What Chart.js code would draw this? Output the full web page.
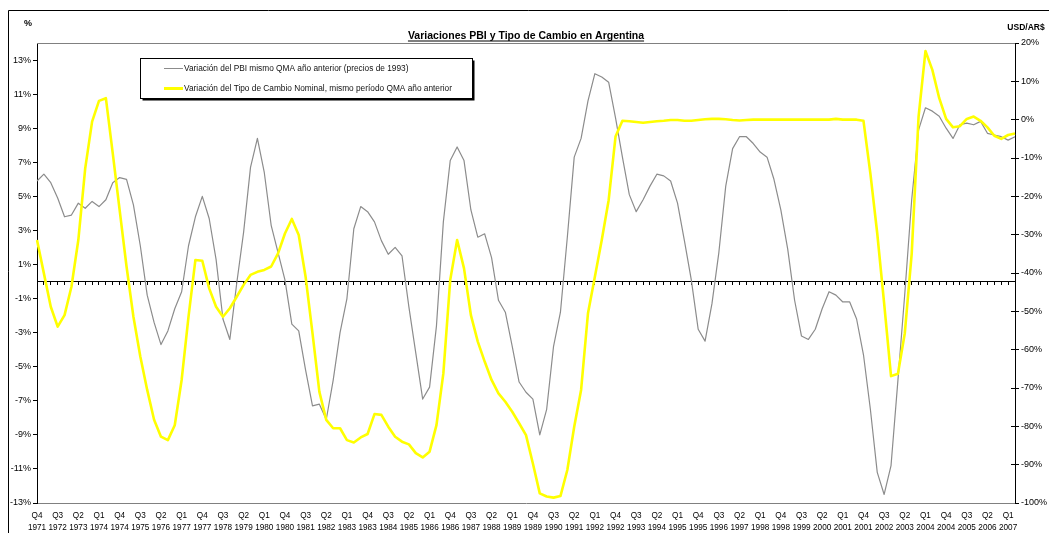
<!DOCTYPE html>
<html>
<head>
<meta charset="utf-8">
<script src="https://cdn.jsdelivr.net/npm/chart.js@4.4.1/dist/chart.umd.min.js"></script>
<style>
html,body{margin:0;padding:0;background:#fff;}
#wrap{position:relative;width:1049px;height:533px;}
</style>
</head>
<body>
<div id="wrap"><canvas id="c" width="1049" height="533"></canvas></div>
<script>
// ---- Data ----
const quarters = [
 "Q4 1971",
 "Q1 1972","Q2 1972","Q3 1972","Q4 1972",
 "Q1 1973","Q2 1973","Q3 1973","Q4 1973",
 "Q1 1974","Q2 1974","Q3 1974","Q4 1974",
 "Q1 1975","Q2 1975","Q3 1975","Q4 1975",
 "Q1 1976","Q2 1976","Q3 1976","Q4 1976",
 "Q1 1977","Q2 1977","Q3 1977","Q4 1977",
 "Q1 1978","Q2 1978","Q3 1978","Q4 1978",
 "Q1 1979","Q2 1979","Q3 1979","Q4 1979",
 "Q1 1980","Q2 1980","Q3 1980","Q4 1980",
 "Q1 1981","Q2 1981","Q3 1981","Q4 1981",
 "Q1 1982","Q2 1982","Q3 1982","Q4 1982",
 "Q1 1983","Q2 1983","Q3 1983","Q4 1983",
 "Q1 1984","Q2 1984","Q3 1984","Q4 1984",
 "Q1 1985","Q2 1985","Q3 1985","Q4 1985",
 "Q1 1986","Q2 1986","Q3 1986","Q4 1986",
 "Q1 1987","Q2 1987","Q3 1987","Q4 1987",
 "Q1 1988","Q2 1988","Q3 1988","Q4 1988",
 "Q1 1989","Q2 1989","Q3 1989","Q4 1989",
 "Q1 1990","Q2 1990","Q3 1990","Q4 1990",
 "Q1 1991","Q2 1991","Q3 1991","Q4 1991",
 "Q1 1992","Q2 1992","Q3 1992","Q4 1992",
 "Q1 1993","Q2 1993","Q3 1993","Q4 1993",
 "Q1 1994","Q2 1994","Q3 1994","Q4 1994",
 "Q1 1995","Q2 1995","Q3 1995","Q4 1995",
 "Q1 1996","Q2 1996","Q3 1996","Q4 1996",
 "Q1 1997","Q2 1997","Q3 1997","Q4 1997",
 "Q1 1998","Q2 1998","Q3 1998","Q4 1998",
 "Q1 1999","Q2 1999","Q3 1999","Q4 1999",
 "Q1 2000","Q2 2000","Q3 2000","Q4 2000",
 "Q1 2001","Q2 2001","Q3 2001","Q4 2001",
 "Q1 2002","Q2 2002","Q3 2002","Q4 2002",
 "Q1 2003","Q2 2003","Q3 2003","Q4 2003",
 "Q1 2004","Q2 2004","Q3 2004","Q4 2004",
 "Q1 2005","Q2 2005","Q3 2005","Q4 2005",
 "Q1 2006","Q2 2006","Q3 2006","Q4 2006",
 "Q1 2007","Q2 2007"
];

// Variación del PBI (%), left axis
const pbi = [
 5.9, 6.3, 5.8, 4.9, 3.8, 3.9, 4.6, 4.3, 4.7, 4.4,
 4.8, 5.8, 6.1, 6.0, 4.5, 2.1, -0.8, -2.4, -3.7, -2.9,
 -1.6, -0.6, 2.1, 3.8, 5.0, 3.7, 1.3, -2.2, -3.4, -0.1,
 2.9, 6.7, 8.4, 6.4, 3.3, 1.7, 0.1, -2.5, -2.9, -5.2,
 -7.3, -7.2, -8.1, -5.8, -3.0, -1.0, 3.1, 4.4, 4.1, 3.5,
 2.4, 1.6, 2.0, 1.5, -1.5, -4.2, -6.9, -6.2, -2.6, 3.5,
 7.1, 7.9, 7.1, 4.2, 2.6, 2.8, 1.4, -1.1, -1.8, -3.8,
 -5.9, -6.5, -6.9, -9.0, -7.5, -3.8, -1.8, 2.6, 7.3, 8.4,
 10.6, 12.2, 12.0, 11.7, 9.6, 7.3, 5.1, 4.1, 4.8, 5.6,
 6.3, 6.2, 5.9, 4.6, 2.4, 0.1, -2.8, -3.5, -1.3, 1.7,
 5.6, 7.8, 8.5, 8.5, 8.1, 7.6, 7.3, 6.0, 4.2, 1.9,
 -1.1, -3.2, -3.4, -2.8, -1.6, -0.6, -0.8, -1.2, -1.2, -2.2,
 -4.3, -7.5, -11.2, -12.5, -10.8, -5.8, -0.7, 4.8, 8.9, 10.2,
 10.0, 9.7, 9.0, 8.4, 9.2, 9.3, 9.2, 9.4, 8.7, 8.6,
 8.5, 8.3, 8.5
];

// Variación del Tipo de Cambio Nominal (%), right axis
const tipoCambio = [
 -31.4, -40.1, -48.8, -54.0, -51.0, -43.6, -31.4, -12.7, -0.5, 4.9,
 5.6, -8.8, -23.6, -38.3, -51.4, -61.8, -70.5, -78.3, -82.7, -83.6,
 -79.7, -67.9, -51.4, -36.6, -36.8, -44.0, -48.8, -51.4, -49.2, -46.2,
 -43.1, -40.5, -39.7, -39.2, -38.3, -34.9, -29.7, -25.9, -30.1, -41.0,
 -55.7, -71.0, -78.3, -80.5, -80.5, -83.6, -84.2, -82.9, -82.0, -76.8,
 -77.0, -80.1, -82.7, -84.0, -84.7, -87.0, -88.1, -86.6, -79.7, -66.2,
 -41.8, -31.4, -38.8, -51.0, -57.9, -63.1, -67.9, -71.4, -73.6, -76.2,
 -79.2, -82.3, -89.7, -97.5, -98.3, -98.6, -98.2, -91.4, -80.1, -70.5,
 -50.5, -41.0, -31.4, -21.0, -4.4, -0.3, -0.4, -0.6, -0.8, -0.6,
 -0.4, -0.3, -0.1, -0.1, -0.3, -0.3, -0.1, 0.1, 0.2, 0.2,
 0.1, -0.1, -0.2, -0.1, 0.0, 0.0, 0.0, 0.0, 0.0, 0.0,
 0.0, 0.0, 0.0, 0.0, 0.0, 0.0, 0.2, 0.0, 0.0, 0.0,
 -0.3, -14.0, -29.7, -47.9, -66.9, -66.3, -55.7, -35.0, 0.8, 17.9,
 13.0, 5.6, 0.2, -2.0, -1.7, 0.2, 0.8, -0.3, -2.0, -4.2,
 -5.0, -4.0, -3.6
];

const leftTicks = [-13, -11, -9, -7, -5, -3, -1, 1, 3, 5, 7, 9, 11, 13];
const rightTicks = [-100, -90, -80, -70, -60, -50, -40, -30, -20, -10, 0, 10, 20];
const seriesNames = [
 "Variación del PBI mismo QMA año anterior (precios de 1993)",
 "Variación del Tipo de Cambio Nominal, mismo período QMA año anterior"
];
const titleText = "Variaciones PBI y Tipo de Cambio en Argentina";
const leftUnit = "%";
const rightUnit = "USD/AR$";

// ---- Styling ----
const FONT = "'Liberation Sans', Arial, Helvetica, sans-serif";
const GRAY = '#8c8c8c';
const YELLOW = '#ffff00';
const setTicks = vals => scale => { scale.ticks = vals.map(v => ({ value: v })); };

const decor = {
  id: 'decor',
  beforeDraw(chart) {
    const c = chart.ctx;
    c.save();
    c.fillStyle = '#fff';
    c.fillRect(0, 0, chart.width, chart.height);
    // outer chart border (left & top visible)
    c.strokeStyle = '#000';
    c.lineWidth = 1;
    c.beginPath();
    c.moveTo(8.5, chart.height);
    c.lineTo(8.5, 10.5);
    c.lineTo(chart.width, 10.5);
    c.stroke();
    c.restore();
  },
  afterDraw(chart) {
    const c = chart.ctx;
    const a = chart.chartArea;
    c.save();
    // plot area top border (gray)
    c.strokeStyle = '#808080';
    c.lineWidth = 1;
    c.beginPath();
    c.moveTo(a.left, Math.round(a.top) + 0.5);
    c.lineTo(a.right, Math.round(a.top) + 0.5);
    c.stroke();

    // title, bold + underline
    c.fillStyle = '#000';
    c.font = 'bold 10.5px ' + FONT;
    c.textAlign = 'center';
    c.textBaseline = 'alphabetic';
    const tx = (a.left + a.right) / 2, ty = 39;
    c.fillText(titleText, tx, ty);
    const tw = c.measureText(titleText).width;
    c.fillRect(tx - tw / 2, ty + 1.5, tw, 1);

    // axis unit labels
    c.font = 'bold 9px ' + FONT;
    c.textBaseline = 'middle';
    c.fillText(leftUnit, 28, 24);
    c.font = 'bold 8.5px ' + FONT;
    c.fillText(rightUnit, 1026, 28);

    // legend box with shadow
    const lx = 140.5, ly = 58.5, lw = 332, lh = 40;
    c.fillStyle = '#000';
    c.fillRect(lx + 2, ly + 2, lw, lh);
    c.fillStyle = '#fff';
    c.fillRect(lx, ly, lw, lh);
    c.strokeStyle = '#000';
    c.lineWidth = 1;
    c.strokeRect(lx, ly, lw, lh);
    c.font = '8.3px ' + FONT;
    c.textAlign = 'left';
    c.textBaseline = 'middle';
    chart.data.datasets.forEach((ds, i) => {
      const yy = 68.5 + i * 20;
      c.strokeStyle = ds.borderColor;
      c.lineWidth = i === 0 ? 1 : 3;
      c.beginPath();
      c.moveTo(164, yy);
      c.lineTo(183, yy);
      c.stroke();
      c.fillStyle = '#111';
      c.fillText(ds.label, 184, yy);
    });
    c.restore();
  }
};

new Chart(document.getElementById('c').getContext('2d'), {
  type: 'line',
  data: {
    labels: quarters,
    datasets: [
      { label: seriesNames[0], data: pbi, yAxisID: 'y', borderColor: GRAY, borderWidth: 1.2,
        pointRadius: 0, tension: 0, fill: false, order: 1, borderJoinStyle: 'round' },
      { label: seriesNames[1], data: tipoCambio, yAxisID: 'y1', borderColor: YELLOW, borderWidth: 2.6,
        pointRadius: 0, tension: 0, fill: false, order: 0, borderJoinStyle: 'round' }
    ]
  },
  options: {
    responsive: false,
    animation: false,
    devicePixelRatio: 1,
    layout: { padding: { top: 43, left: 0, right: 0, bottom: 0 } },
    plugins: { legend: { display: false }, tooltip: { enabled: false }, title: { display: false } },
    scales: {
      x: {
        type: 'category', position: 'bottom', offset: false,
        grid: { display: false },
        border: { display: true, color: '#808080', width: 1 },
        ticks: {
          autoSkip: false, maxRotation: 0, minRotation: 0, padding: -1, color: '#000',
          font: { family: FONT, size: 8.2, lineHeight: 1.45 },
          callback: (v, i) => (i % 3 === 0 ? quarters[i].split(' ') : '')
        },
        afterFit: s => { s.height = 30; }
      },
      x2: {
        type: 'category', axis: 'x', position: { y: 0 }, offset: false,
        ticks: { display: false },
        grid: { display: true, drawOnChartArea: false, drawTicks: true, tickLength: 3, color: '#000', lineWidth: 1 },
        border: { display: true, color: '#000', width: 1 }
      },
      y: {
        type: 'linear', position: 'left', min: -13, max: 14,
        afterBuildTicks: setTicks(leftTicks),
        grid: { display: true, drawOnChartArea: false, tickLength: 4, color: '#000' },
        border: { display: true, color: '#000', width: 1 },
        ticks: { padding: 2, color: '#000', font: { family: FONT, size: 9 }, callback: v => v + '%' },
        afterFit: s => { s.width = 37; }
      },
      y1: {
        type: 'linear', position: 'right', min: -100, max: 20,
        afterBuildTicks: setTicks(rightTicks),
        grid: { display: true, drawOnChartArea: false, tickLength: 4, color: '#000' },
        border: { display: true, color: '#000', width: 1 },
        ticks: { padding: 2, color: '#000', font: { family: FONT, size: 9 }, callback: v => v + '%' },
        afterFit: s => { s.width = 34; }
      },
      y1in: {
        type: 'linear', axis: 'y', position: { x: quarters.length - 1 }, min: -100, max: 20,
        afterBuildTicks: setTicks(rightTicks),
        ticks: { display: false },
        grid: { display: true, drawOnChartArea: false, tickLength: 4, color: '#000' },
        border: { display: false }
      }
    }
  },
  plugins: [decor]
});
</script>
</body>
</html>
